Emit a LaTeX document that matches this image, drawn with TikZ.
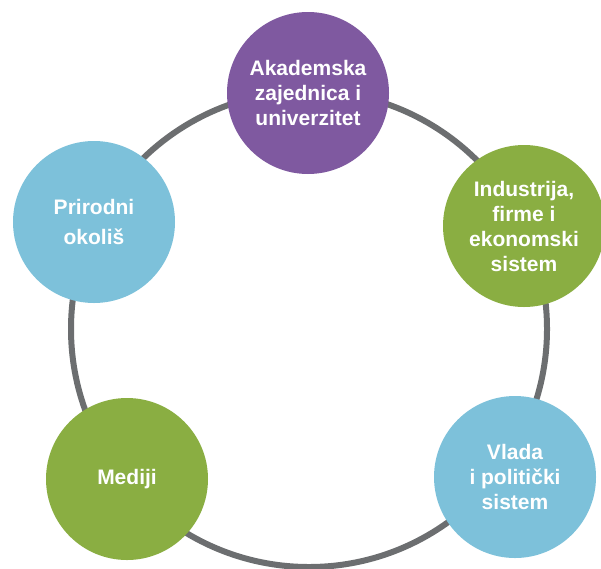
\documentclass[tikz,border=0pt]{standalone}
\usepackage{fontspec}
\setmainfont{Liberation Sans}
\definecolor{ljubicasta}{HTML}{7F59A0}
\definecolor{zelena}{HTML}{8AAE42}
\definecolor{plava}{HTML}{7DC1DA}
\definecolor{siva}{HTML}{6C6E70}
\begin{document}
\begin{tikzpicture}[x=1pt,y=-1pt,
   krug/.style={circle,minimum size=162pt,inner sep=0pt,text=white,align=center,
     font=\fontsize{21}{25}\selectfont\bfseries},
   prsten/.style={draw=siva,line width=6pt}]
   \useasboundingbox (0,0) rectangle (601,568);
   % veliki prsten
   \coordinate (centar) at (309,329);
   \draw [prsten] (centar) circle (238pt);
   % akteri
   \node [krug,fill=ljubicasta] (akademija) at (308,93) {Akademska\\zajednica i\\univerzitet};
   \node [krug,fill=zelena] (industrija) at (524,226) {Industrija,\\firme i\\ekonomski\\sistem};
   \node [krug,fill=plava] (vlada) at (515,477) {Vlada\\i politički\\sistem};
   \node [krug,fill=zelena] (mediji) at (127,479) {Mediji};
   \node [krug,fill=plava] (priroda) at (94,222) {Prirodni\\[5pt]okoliš};
  \end{tikzpicture}
\end{document}
